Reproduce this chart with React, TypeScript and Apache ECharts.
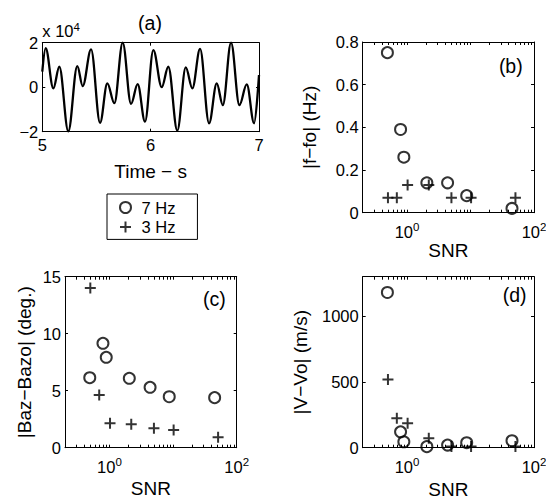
import React, { useEffect, useRef } from 'react';
import * as echarts from 'echarts';

// ---- Panel (a): waveform, extrema ----
const timeS = [
  5.0, 5.031, 5.102, 5.157, 5.24, 5.323, 5.373, 5.45, 5.533, 5.6, 5.665, 5.742, 5.819, 5.88, 5.948,
  6.025, 6.102, 6.163, 6.246, 6.324, 6.385, 6.456, 6.539, 6.61, 6.666, 6.742, 6.819, 6.887, 6.955, 7.0,
];
const amplitude = [
  7000, 17500, -500, 9200, -19800, 9500, 500, 17000, -16000, 1700, -7200, 20000, -7500, 1400, -15500,
  16700, 0, 9200, -19500, 8900, -500, 17200, -16200, 1700, -8000, 20000, -8000, 1300, -16200, 5500,
];

// ---- Panels (b)-(d): SNR scatter ----
const snr7Hz = [0.49, 0.79, 0.89, 2.05, 4.35, 8.7, 45];
const snr3Hz = [0.5, 0.69, 1.02, 2.2, 5.0, 10.2, 51];
const freqErr7Hz = [0.75, 0.39, 0.26, 0.14, 0.14, 0.08, 0.02];
const freqErr3Hz = [0.07, 0.07, 0.13, 0.13, 0.07, 0.07, 0.07];
const bazErr7Hz = [6.14, 9.16, 7.93, 6.09, 5.3, 4.47, 4.39];
const bazErr3Hz = [14.0, 4.62, 2.14, 2.05, 1.7, 1.55, 0.91];
const velErr7Hz = [1180, 121, 45, 8, 20, 38, 53];
const velErr3Hz = [518, 223, 185, 71, 10, 10, 10];

// ---- Axis ticks ----
const snrMin = 0.2;
const snrMax = 100;
const snrLabelValues = [1, 100];
const snrTickValues = [
  0.3, 0.4, 0.5, 0.6, 0.7, 0.8, 0.9, 1, 2, 3, 4, 5, 6, 7, 8, 9, 10, 20, 30, 40, 50, 60, 70, 80, 90, 100,
];
const velTicks = [0, 500, 1000];

const FONT = '"Liberation Sans", Arial, Helvetica, sans-serif';
const TICK_FS = 16.5;
const NAME_FS = 19;
const BLACK = '#000';

const axisLine = { show: true, onZero: false, lineStyle: { color: BLACK, width: 1 } };
const tick = { show: true, inside: true, length: 3, lineStyle: { color: BLACK, width: 1 } };
const labelBase = { color: BLACK, fontSize: TICK_FS, fontFamily: FONT };
const nameStyle = { color: BLACK, fontSize: NAME_FS, fontFamily: FONT };
const supRich = {
  b: { fontSize: TICK_FS, lineHeight: 22, verticalAlign: 'middle', fontFamily: FONT, color: BLACK },
  s: { fontSize: 11.5, lineHeight: 8, verticalAlign: 'top', fontFamily: FONT, color: BLACK },
};

const grids = [
  { left: 42.3, top: 42.7, width: 216.7, height: 89 },
  { left: 362.7, top: 42, width: 171.3, height: 170.7 },
  { left: 65, top: 276.7, width: 171.7, height: 171 },
  { left: 362.7, top: 276.7, width: 171.3, height: 171 },
];

function logX(gridIndex: number, position: string, withLabels: boolean, nameGap: number) {
  return {
    type: 'value',
    gridIndex,
    position,
    min: Math.log10(snrMin),
    max: Math.log10(snrMax),
    axisLine,
    axisTick: { ...tick, customValues: snrTickValues.map((v) => Math.log10(v)) },
    axisLabel: withLabels
      ? {
          show: true,
          margin: 8,
          customValues: snrLabelValues.map((v) => Math.log10(v)),
          formatter: (v: number) => `{b|10}{s|${Math.round(v)}}`,
          rich: supRich,
        }
      : { show: false },
    splitLine: { show: false },
    name: withLabels ? 'SNR' : '',
    nameLocation: 'middle',
    nameGap,
    nameTextStyle: nameStyle,
  };
}

function valY(
  gridIndex: number,
  position: string,
  withLabels: boolean,
  min: number,
  max: number,
  ticks: number[],
  name: string,
  nameGap: number,
) {
  return {
    type: 'value',
    gridIndex,
    position,
    min,
    max,
    axisLine,
    axisTick: { ...tick, customValues: ticks },
    axisLabel: withLabels
      ? { ...labelBase, show: true, margin: 4, customValues: ticks, formatter: (v: number) => String(v) }
      : { show: false },
    splitLine: { show: false },
    name: withLabels ? name : '',
    nameLocation: 'middle',
    nameGap,
    nameTextStyle: nameStyle,
  };
}

const plusPath = 'path://M0,5L10,5M5,0L5,10';
const markerStyle = { color: 'transparent', borderColor: BLACK, borderWidth: 2 };

function scatterPair(axisIndex: number, ys7: number[], ys3: number[]) {
  return [
    {
      type: 'scatter',
      name: '7 Hz',
      xAxisIndex: axisIndex,
      yAxisIndex: axisIndex,
      data: snr7Hz.map((s, i) => [Math.log10(s), ys7[i]]),
      symbol: 'circle',
      symbolSize: 11,
      itemStyle: markerStyle,
      silent: true,
      clip: false,
    },
    {
      type: 'scatter',
      name: '3 Hz',
      xAxisIndex: axisIndex,
      yAxisIndex: axisIndex,
      data: snr3Hz.map((s, i) => [Math.log10(s), ys3[i]]),
      symbol: plusPath,
      symbolSize: 11,
      itemStyle: markerStyle,
      silent: true,
      clip: false,
    },
  ];
}

export default function App() {
  const ref = useRef<HTMLDivElement>(null);
  useEffect(() => {
    if (!ref.current) return;
    const chart = echarts.init(ref.current, null, { renderer: 'svg' });
    const timeTicks = [5, 6, 7];
    const ampTicks = [-20000, 0, 20000];
    const option = {
      animation: false,
      backgroundColor: '#fff',
      textStyle: { fontFamily: FONT },
      grid: grids.map((g) => ({ ...g, outerBoundsMode: 'none', containLabel: false })),
      xAxis: [
        {
          type: 'value',
          gridIndex: 0,
          position: 'bottom',
          min: 5,
          max: 7,
          axisLine,
          axisTick: { ...tick, customValues: timeTicks },
          axisLabel: { ...labelBase, margin: 5, customValues: timeTicks },
          splitLine: { show: false },
          name: 'Time \u2212 s',
          nameLocation: 'middle',
          nameGap: 30,
          nameTextStyle: nameStyle,
        },
        {
          type: 'value',
          gridIndex: 0,
          position: 'top',
          min: 5,
          max: 7,
          axisLine,
          axisTick: { ...tick, customValues: timeTicks },
          axisLabel: { show: false },
          splitLine: { show: false },
        },
        logX(1, 'bottom', true, 27),
        logX(1, 'top', false, 0),
        logX(2, 'bottom', true, 31),
        logX(2, 'top', false, 0),
        logX(3, 'bottom', true, 32),
        logX(3, 'top', false, 0),
      ],
      yAxis: [
        {
          type: 'value',
          gridIndex: 0,
          position: 'left',
          min: -20000,
          max: 20000,
          axisLine,
          axisTick: { ...tick, customValues: ampTicks },
          axisLabel: {
            ...labelBase,
            margin: 4,
            customValues: ampTicks,
            formatter: (v: number) => (v < 0 ? '\u2212' + Math.abs(v / 1e4) : String(v / 1e4)),
          },
          splitLine: { show: false },
          name: '{t|x 10}{s|4}',
          nameLocation: 'end',
          nameGap: 2,
          nameTextStyle: {
            align: 'left',
            verticalAlign: 'bottom',
            rich: {
              t: { fontSize: TICK_FS, lineHeight: 20, verticalAlign: 'middle', fontFamily: FONT, color: BLACK },
              s: { fontSize: 11.5, lineHeight: 8, verticalAlign: 'top', fontFamily: FONT, color: BLACK },
            },
          },
        },
        {
          type: 'value',
          gridIndex: 0,
          position: 'right',
          min: -20000,
          max: 20000,
          axisLine,
          axisTick: { ...tick, customValues: ampTicks },
          axisLabel: { show: false },
          splitLine: { show: false },
        },
        valY(1, 'left', true, 0, 0.8, [0, 0.2, 0.4, 0.6, 0.8], '|f\u2212fo| (Hz)', 44),
        valY(1, 'right', false, 0, 0.8, [0, 0.2, 0.4, 0.6, 0.8], '', 0),
        valY(2, 'left', true, 0, 15, [0, 5, 10, 15], '|Baz\u2212Bazo| (deg.)', 31),
        valY(2, 'right', false, 0, 15, [0, 5, 10, 15], '', 0),
        valY(3, 'left', true, 0, 1300, velTicks, '|V\u2212Vo| (m/s)', 53),
        valY(3, 'right', false, 0, 1300, velTicks, '', 0),
      ],
      legend: {
        left: 107,
        top: 194,
        orient: 'vertical',
        padding: [5, 22, 4, 12],
        itemGap: 2.4,
        itemWidth: 22,
        itemHeight: 11,
        borderColor: BLACK,
        borderWidth: 1,
        borderRadius: 0,
        backgroundColor: '#fff',
        selectedMode: false,
        itemStyle: markerStyle,
        textStyle: { color: BLACK, fontSize: TICK_FS, lineHeight: 16, fontFamily: FONT },
        data: [
          { name: '7 Hz', icon: 'circle' },
          { name: '3 Hz', icon: plusPath },
        ],
      },
      graphic: [
        { type: 'text', x: 150, y: 23.3, style: { text: '(a)', fontSize: 19.5, fontFamily: FONT, fill: BLACK, align: 'center', verticalAlign: 'middle' } },
        { type: 'text', x: 510.8, y: 65.8, style: { text: '(b)', fontSize: 19.5, fontFamily: FONT, fill: BLACK, align: 'center', verticalAlign: 'middle' } },
        { type: 'text', x: 214.3, y: 299.2, style: { text: '(c)', fontSize: 19.5, fontFamily: FONT, fill: BLACK, align: 'center', verticalAlign: 'middle' } },
        { type: 'text', x: 514.7, y: 294.7, style: { text: '(d)', fontSize: 19.5, fontFamily: FONT, fill: BLACK, align: 'center', verticalAlign: 'middle' } },
      ],
      series: [
        {
          type: 'line',
          xAxisIndex: 0,
          yAxisIndex: 0,
          data: timeS.map((t, i) => [t, amplitude[i]]),
          showSymbol: false,
          smooth: 0.36,
          smoothMonotone: 'x',
          lineStyle: { color: BLACK, width: 2.3 },
          silent: true,
          clip: false,
        },
        ...scatterPair(2, freqErr7Hz, freqErr3Hz),
        ...scatterPair(4, bazErr7Hz, bazErr3Hz),
        ...scatterPair(6, velErr7Hz, velErr3Hz),
      ],
    };
    chart.setOption(option as any);
    return () => chart.dispose();
  }, []);
  return <div ref={ref} style={{ position: 'fixed', left: 0, top: 0, width: 546, height: 500 }} />;
}
